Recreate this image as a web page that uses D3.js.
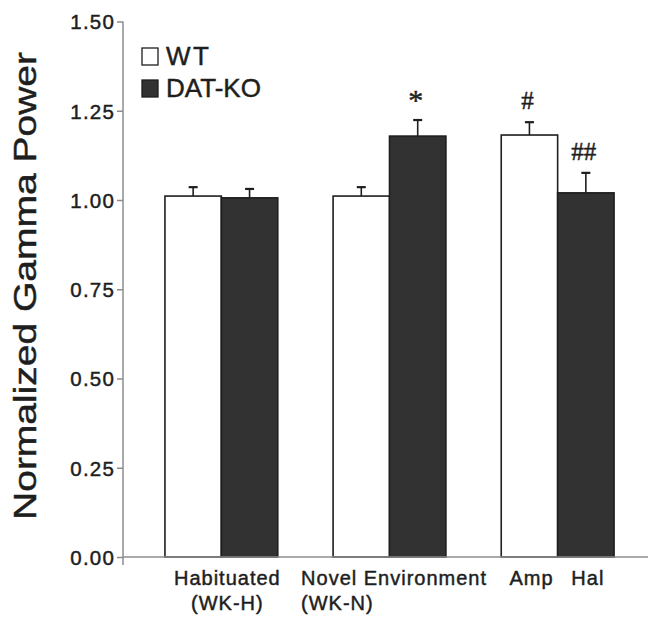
<!DOCTYPE html>
<html>
<head>
<meta charset="utf-8">
<script src="https://cdn.jsdelivr.net/npm/d3@7"></script>
<style>
  html, body { margin: 0; padding: 0; background: #fff; }
  svg { display: block; font-family: "Liberation Sans", Arial, Helvetica, sans-serif; }
  .heavy { stroke: #1e1e1e; stroke-width: 0.45px; }
</style>
</head>
<body>
<svg id="chart" width="650" height="617"></svg>
<script>
// Normalized gamma power, WT vs DAT-KO, across three conditions
const groups = ["Habituated", "Novel Environment", "Drug"];
const groupLabels = [["Habituated", "(WK-H)"], ["Novel Environment", "(WK-N)"], ["", ""]];
const drugLabels = ["Amp", "Hal"];
const seriesNames = ["WT", "DAT-KO"];
const wtMean = [1.011, 1.011, 1.182];
const wtSem  = [0.025, 0.025, 0.036];
const koMean = [1.006, 1.179, 1.020];
const koSem  = [0.025, 0.045, 0.056];
const wtMarks = ["", "", "#"];
const koMarks = ["", "*", "##"];
const yTicks = [0, 0.25, 0.5, 0.75, 1.0, 1.25, 1.5];

const svg = d3.select("#chart");
const axisColor = "#8c8c8c";
const ink = "#1e1e1e";

const y = d3.scaleLinear().domain([0, 1.5]).range([557, 21.5]);
const x = d3.scaleBand().domain(groups).range([137.2, 641.8])
  .paddingInner(0.329).paddingOuter(0.165);
const xs = d3.scaleBand().domain(seriesNames).range([0, x.bandwidth()]);

// Y axis
const yAxis = d3.axisLeft(y).tickValues(yTicks).tickFormat(d3.format(".2f")).tickSize(6).tickPadding(2);
const gy = svg.append("g").attr("transform", "translate(123,0)").call(yAxis);
gy.select(".domain").remove();
gy.selectAll(".tick line").attr("stroke", axisColor).attr("stroke-width", 1.5);
gy.selectAll(".tick text").attr("fill", ink).attr("class", "heavy").style("font-size", "20.5px")
  .style("letter-spacing", "1.2px").attr("dy", "0.36em");
svg.append("line").attr("x1", 123).attr("x2", 123).attr("y1", y(1.5)).attr("y2", 565)
  .attr("stroke", axisColor).attr("stroke-width", 1.5);

// Bars
const rows = [];
groups.forEach((g, i) => {
  rows.push({ g, s: "WT", mean: wtMean[i], sem: wtSem[i], mark: wtMarks[i] });
  rows.push({ g, s: "DAT-KO", mean: koMean[i], sem: koSem[i], mark: koMarks[i] });
});
const bx = d => x(d.g) + xs(d.s);
const bw = xs.bandwidth();

// Error bars (drawn first, bars overlap their base)
const eb = svg.append("g");
rows.forEach(d => {
  const cx = bx(d) + bw / 2;
  eb.append("line").attr("x1", cx).attr("x2", cx).attr("y1", y(d.mean)).attr("y2", y(d.mean + d.sem))
    .attr("stroke", ink).attr("stroke-width", 1.6);
  eb.append("line").attr("x1", cx - 4.5).attr("x2", cx + 4.5)
    .attr("y1", y(d.mean + d.sem)).attr("y2", y(d.mean + d.sem))
    .attr("stroke", ink).attr("stroke-width", 2.2);
});

svg.append("g").selectAll("rect").data(rows).join("rect")
  .attr("x", bx).attr("width", bw)
  .attr("y", d => y(d.mean)).attr("height", d => y(0) - y(d.mean))
  .attr("fill", d => d.s === "WT" ? "#ffffff" : "#323232")
  .attr("stroke", ink).attr("stroke-width", 1.6);

// X axis
svg.append("line").attr("x1", 123).attr("x2", 648).attr("y1", y(0)).attr("y2", y(0))
  .attr("stroke", axisColor).attr("stroke-width", 1.5);

// Significance marks
svg.append("g").selectAll("text").data(rows.filter(d => d.mark)).join("text")
  .attr("x", d => bx(d) + bw / 2 - 2)
  .attr("y", d => y(d.mean + d.sem) - (d.mark === "*" ? 10 : 13))
  .attr("text-anchor", "middle")
  .attr("class", "heavy")
  .style("font-family", "'Liberation Serif', 'Times New Roman', serif")
  .style("font-size", d => d.mark === "*" ? "30px" : "25px").attr("fill", ink)
  .text(d => d.mark);

// Category labels
const lab = svg.append("g").attr("fill", ink).attr("class", "heavy")
  .style("font-size", "20px").style("letter-spacing", "1px");
lab.append("text").attr("x", x(groups[0]) + x.bandwidth() / 2 + 6).attr("y", 585)
  .attr("text-anchor", "middle").text(groupLabels[0][0]);
lab.append("text").attr("x", x(groups[0]) + x.bandwidth() / 2 + 6).attr("y", 610)
  .attr("text-anchor", "middle").text(groupLabels[0][1]);
lab.append("text").attr("x", x(groups[1]) - 32).attr("y", 585).text(groupLabels[1][0]);
lab.append("text").attr("x", x(groups[1]) - 32).attr("y", 610).text(groupLabels[1][1]);
seriesNames.forEach((s, i) => {
  lab.append("text").attr("x", x(groups[2]) + xs(s) + bw / 2 + 2).attr("y", 585)
    .attr("text-anchor", "middle").text(drugLabels[i]);
});

// Legend
const legend = svg.append("g");
seriesNames.forEach((s, i) => {
  const ly = 48 + i * 32;
  legend.append("rect").attr("x", 142).attr("y", ly).attr("width", 16).attr("height", 17)
    .attr("fill", s === "WT" ? "#fff" : "#323232").attr("stroke", ink).attr("stroke-width", 1.3);
  legend.append("text").attr("x", 166).attr("y", ly + 16.5).attr("fill", ink).attr("class", "heavy")
    .style("font-size", "26px").style("letter-spacing", s === "WT" ? "2.5px" : "0px").text(s);
});

// Y axis title, stretched along its length
const title = svg.append("text").attr("text-anchor", "middle").attr("fill", ink).attr("class", "heavy")
  .style("font-size", "32px").text("Normalized Gamma Power");
const natural = title.node().getComputedTextLength();
const k = 468 / natural;
title.attr("transform", `translate(36,286) rotate(-90) scale(${k},1)`);
</script>
</body>
</html>
